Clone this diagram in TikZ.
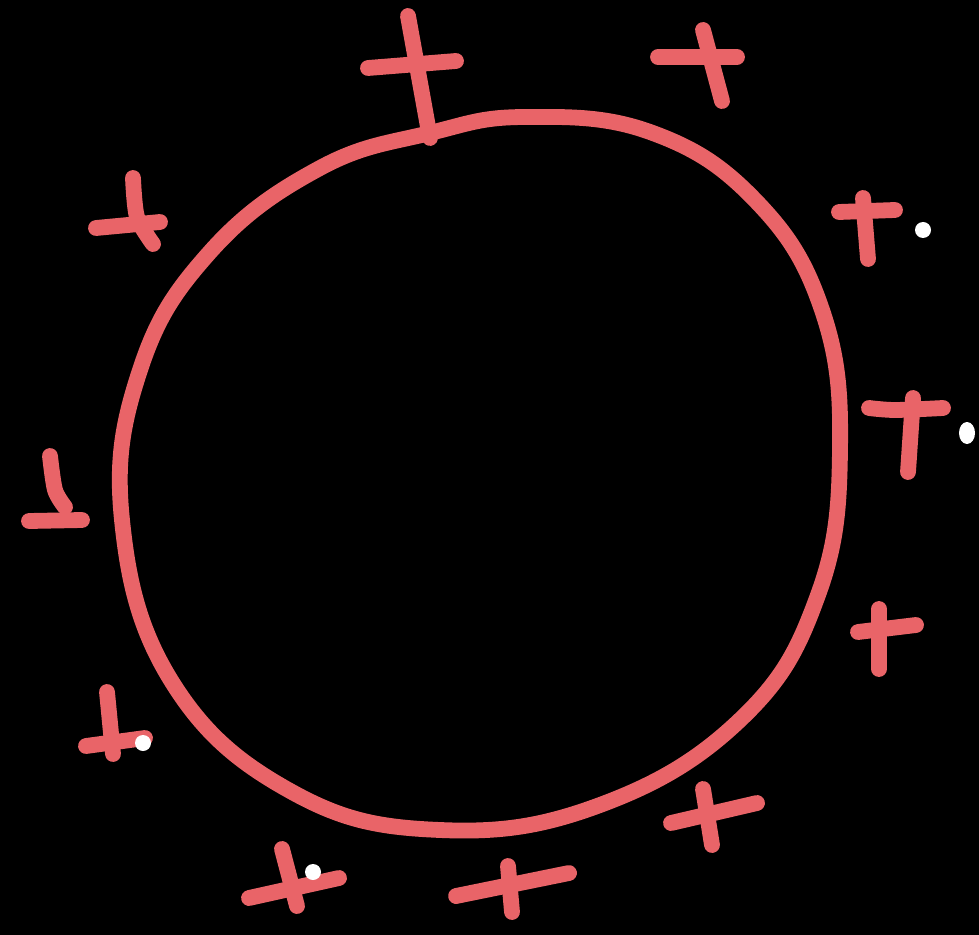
\documentclass[tikz,border=0pt]{standalone}
\usepackage{xcolor}
\usepackage{tikz}
\definecolor{rojo}{HTML}{E96468}
\definecolor{fondo}{HTML}{000000}

\begin{document}
\begin{tikzpicture}[
    x=0.02cm, y=-0.02cm,
    borde/.style={
        draw=rojo,
        line width=9pt,
        line cap=round,
        line join=round,
    },
    trazo/.style={
        draw=rojo,
        line width=9pt,
        line cap=round,
        line join=round,
    },
    punto/.style={
        fill=white,
    },
]

\fill[fondo] (0,0) rectangle (979,935);
\useasboundingbox (0,0) rectangle (979,935);

% circulo a mano alzada
\draw[borde] plot[smooth cycle, tension=0.7] coordinates {
    (525,117) (650,132) (755,200) (822,310) (840,450) (818,595)
    (742,718) (600,805) (440,830) (292,792) (172,682) (122,520)
    (140,370) (210,252) (320,168) (430,133)};

% cruces
\draw[trazo] (408,16) -- (430,138);
\draw[trazo] (368,68) -- (456,61);

\draw[trazo] (658,57) -- (737,57);
\draw[trazo] (703,30) -- (722,101);

\draw[trazo] plot[smooth] coordinates {(133,178) (137,217) (153,244)};
\draw[trazo] (96,228) -- (160,222);

\draw[trazo] plot[smooth] coordinates {(50,456) (55,490) (65,507)};
\draw[trazo] (29,521) -- (82,520);

\draw[trazo] (839,212) -- (895,210);
\draw[trazo] (863,198) -- (868,259);

\draw[trazo] plot[smooth] coordinates {(869,408) (895,410) (943,408)};
\draw[trazo] (913,398) -- (908,472);

\draw[trazo] (858,632) -- (916,625);
\draw[trazo] (879,609) -- (879,669);

\draw[trazo] (107,692) -- (113,754);
\draw[trazo] (86,746) -- (145,738);

\draw[trazo] (282,849) -- (297,906);
\draw[trazo] (249,898) -- (339,878);

\draw[trazo] (456,896) -- (569,873);
\draw[trazo] (508,866) -- (512,912);

\draw[trazo] (671,823) -- (757,803);
\draw[trazo] (703,789) -- (712,845);

% puntos blancos
\fill[punto] (923,230) circle (8);
\fill[punto] (967,433) ellipse (8 and 11);
\fill[punto] (143,743) circle (8);
\fill[punto] (313,872) circle (8);

\end{tikzpicture}
\end{document}
